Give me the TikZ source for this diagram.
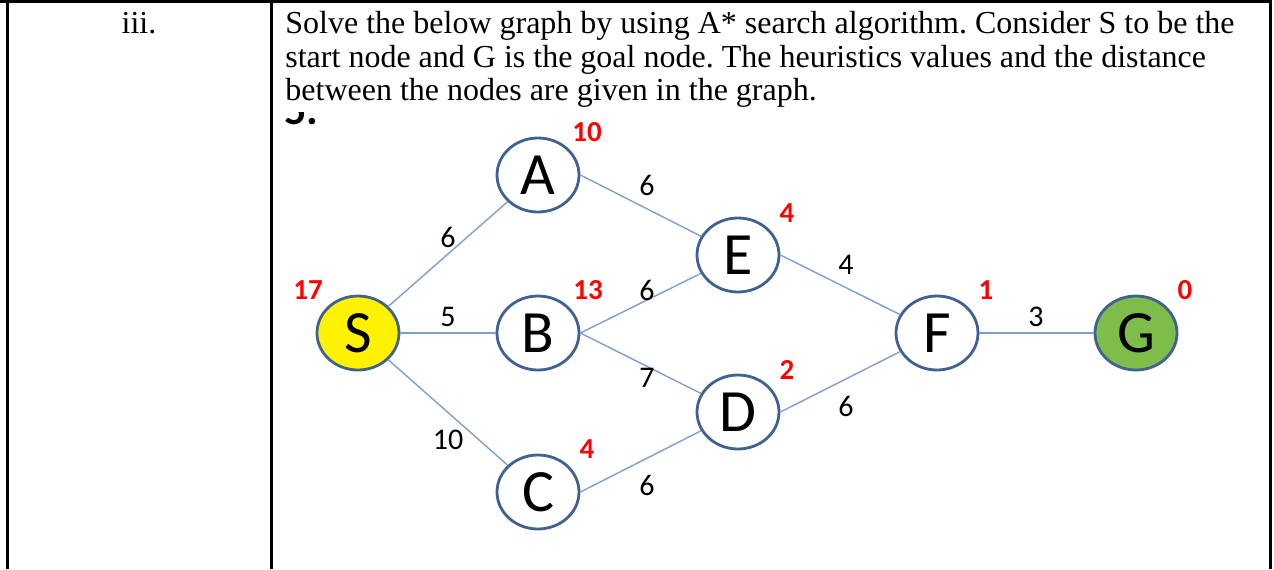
\documentclass[tikz,border=0pt]{standalone}
\usepackage{fontspec}
\setmainfont{Liberation Serif}
\newfontfamily\calibri{Carlito}
\usepackage{tikz}
\usetikzlibrary{shapes.geometric}
\frenchspacing

\definecolor{linkblue}{HTML}{7F9FCB}
\definecolor{ringblue}{HTML}{41618E}
\definecolor{goalgreen}{HTML}{7DBE4B}

\tikzset{
  vertex/.style={ellipse, draw=ringblue, line width=1.4pt, fill=white,
    minimum width=41pt, minimum height=37pt, inner sep=0pt,
    font=\calibri\fontsize{30}{30}\selectfont},
  hval/.style={text=red, font=\calibri\bfseries\fontsize{14.5}{14.5}\selectfont},
  cost/.style={font=\calibri\fontsize{15}{15}\selectfont},
  link/.style={draw=linkblue, line width=0.7pt},
  tabline/.style={line width=1.5pt},
  qtext/.style={anchor=base west, inner sep=0pt, font=\fontsize{16}{18}\selectfont},
}

\begin{document}
\begin{tikzpicture}[x=0.5pt, y=-0.5pt]
      \useasboundingbox (0,0) rectangle (1274,569);
      % table rules
      \draw[tabline] (0,1.5) -- (1270,1.5);
      \draw[tabline] (7,0) -- (7,569);
      \draw[tabline] (271,0) -- (271,569);
      \draw[tabline] (1270,0) -- (1270,569);
      \node[qtext, anchor=base] (num) at (139,33) {iii.};
      \node[qtext] (q1) at (285,33) {Solve the below graph by using A* search algorithm. Consider S to be the};
      \node[qtext] (q2) at (285,67) {start node and G is the goal node. The heuristics values and the distance};
      \node[qtext] (q3) at (285,100) {between the nodes are given in the graph.};
      \begin{scope}
        \clip (280,112) rectangle (320,127);
        \node[anchor=base west, inner sep=0pt, font=\calibri\bfseries\fontsize{22}{22}\selectfont] (cut) at (284,124) {5.};
      \end{scope}
      % graph
      \node[vertex, fill=yellow] (S) at (358,333) {S};
      \node[vertex] (A) at (538,175) {A};
      \node[vertex] (B) at (538,333) {B};
      \node[vertex] (C) at (538,492) {C};
      \node[vertex] (E) at (738,255) {E};
      \node[vertex] (D) at (738,412) {D};
      \node[vertex] (F) at (937,333) {F};
      \node[vertex, fill=goalgreen] (G) at (1136,333) {G};
      \foreach \from/\to in {S/A, S/C}
        \draw[link] (\from) -- (\to);
      \foreach \from/\to in {S/B, A/E, B/E, B/D, C/D, E/F, D/F, F/G}
        \draw[link] (\from.east) -- (\to);
      \foreach \val/\px/\py [count=\i] in {6/448/237, 6/647/185, 5/448/317, 6/647/290, 7/647/378,
          10/448/440, 6/647/485, 4/846/265, 6/846/406, 3/1036/317}
        \node[cost] (c\i) at (\px,\py) {\val};
      \foreach \v/\val/\px/\py in {S/17/308/290, A/10/587/132, B/13/588/290, C/4/587/449,
          E/4/787/213, D/2/787/370, F/1/986/290, G/0/1185/290}
        \node[hval] (h\v) at (\px,\py) {\val};
\end{tikzpicture}
\end{document}
